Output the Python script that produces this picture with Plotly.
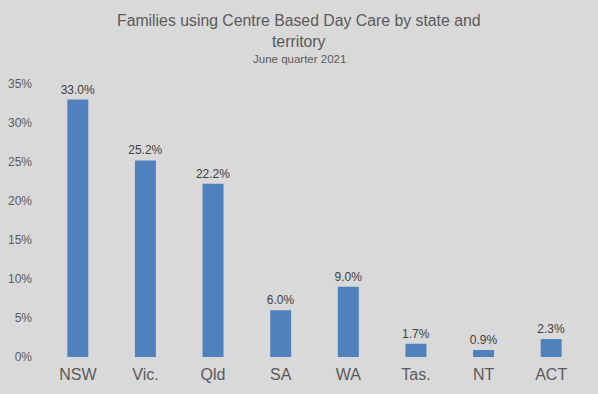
import plotly.graph_objects as go

states = ["NSW", "Vic.", "Qld", "SA", "WA", "Tas.", "NT", "ACT"]
shares = [33.0, 25.2, 22.2, 6.0, 9.0, 1.7, 0.9, 2.3]
y_ticks = [0, 5, 10, 15, 20, 25, 30, 35]
y_tick_labels = [f"{t}%" for t in y_ticks]

W, H = 598, 394
l, r, t, b = 44, 13, 84, 37
pw, ph = W - l - r, H - t - b


def px(xp):
    return (xp - l) / pw


def py(yp):
    return (H - b - yp) / ph


fig = go.Figure(go.Bar(
    x=states, y=shares,
    marker=dict(color="#4f81bd", line=dict(width=0)),
    text=[f"{v:.1f}%" for v in shares],
    textposition="outside",
    constraintext="none",
    textfont=dict(family="Liberation Sans, Arial", size=12, color="#404040"),
    cliponaxis=False,
))

fig.update_layout(
    width=W, height=H,
    paper_bgcolor="#d9d9d9", plot_bgcolor="#d9d9d9",
    margin=dict(l=l, r=r, t=t, b=b, autoexpand=False),
    bargap=0.69,
    showlegend=False,
    font=dict(family="Liberation Sans, Arial", color="#595959"),
    xaxis=dict(showgrid=False, showline=False, zeroline=False, ticks="",
               automargin=False, ticklabelstandoff=6,
               tickfont=dict(size=16, color="#595959")),
    yaxis=dict(range=[0, 35], tickvals=y_ticks, ticktext=y_tick_labels,
               showgrid=False, showline=False, zeroline=False, ticks="",
               automargin=False,
               tickfont=dict(size=12, color="#595959"), ticklabelstandoff=11),
    annotations=[
        dict(text="Families using Centre Based Day Care by state and<br>territory",
             x=px(299), y=py(31), xref="paper", yref="paper",
             xanchor="center", yanchor="middle",
             showarrow=False, font=dict(size=15.8, color="#595959")),
        dict(text="June quarter 2021",
             x=px(299), y=py(59), xref="paper", yref="paper",
             xanchor="center", yanchor="middle",
             showarrow=False, font=dict(size=11.5, color="#595959")),
    ],
)

fig.write_html("out.html", config={"displayModeBar": False},
               post_script="document.body.style.margin='0';document.body.style.padding='0';")
